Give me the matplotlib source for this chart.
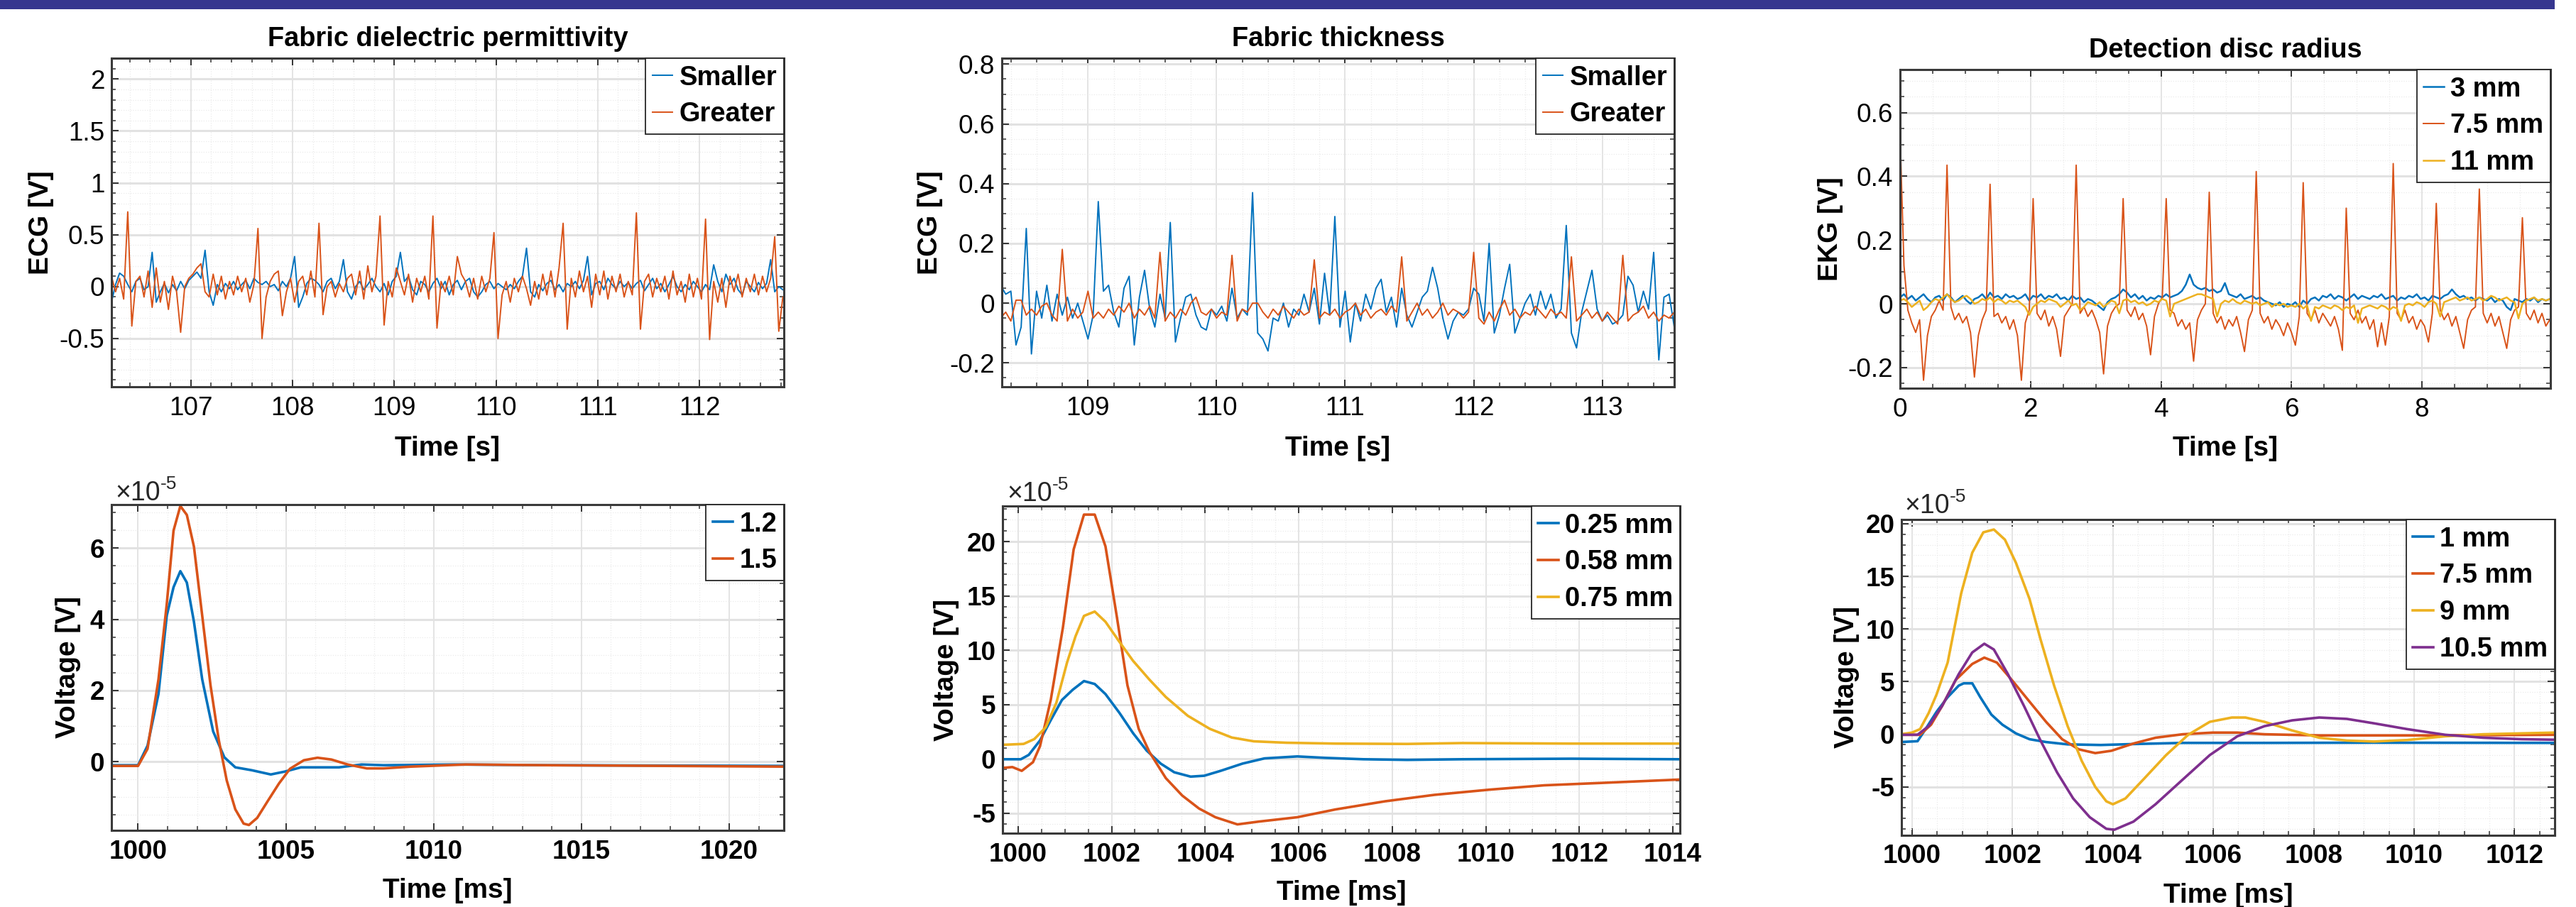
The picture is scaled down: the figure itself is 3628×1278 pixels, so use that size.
import numpy as np
import matplotlib
matplotlib.use("Agg")
import matplotlib.pyplot as plt
import matplotlib.ticker as mtick
from matplotlib.patches import Rectangle

plt.rcParams['font.family'] = ['Liberation Sans', 'DejaVu Sans']
plt.rcParams['axes.unicode_minus'] = False

W, H = 3628, 1278
BLUE, ORANGE, YELLOW, PURPLE = '#0072BD', '#D95319', '#EDB120', '#7E2F8E'

# ---------------- data ----------------
# top left: fabric dielectric permittivity, ECG [V], one sample every 40 ms
perm_t0, perm_dt = 106.22, 0.04
perm_smaller = [
    -0.15, 0.02, 0.13, 0.10, 0.02, -0.05, 0.05, 0.08, -0.03, 0.00,
    0.33, -0.15, -0.05, 0.03, -0.06, 0.02, -0.04, 0.05, -0.02, 0.06,
    0.10, 0.14, 0.08, 0.35, -0.05, -0.18, 0.02, -0.05, 0.03, -0.02,
    0.05, -0.03, 0.02, 0.06, -0.02, 0.08, 0.04, 0.02, 0.05, 0.00,
    0.02, -0.04, 0.05, 0.00, 0.08, 0.29, -0.20, -0.10, 0.03, 0.08,
    0.06, 0.02, -0.05, 0.05, 0.08, -0.02, 0.05, 0.26, -0.05, -0.12,
    0.00, 0.05, -0.03, 0.02, 0.08, 0.00, -0.05, 0.03, -0.08, 0.05,
    0.10, 0.33, 0.05, 0.10, -0.03, -0.08, 0.05, 0.02, -0.05, 0.03,
    0.08, -0.02, 0.05, -0.08, 0.02, 0.06, -0.03, 0.05, 0.08, -0.05,
    -0.10, -0.05, 0.02, 0.05, -0.02, 0.03, 0.00, -0.03, 0.02, -0.02,
    0.05, 0.10, 0.37, -0.05, -0.10, 0.02, -0.04, 0.03, 0.06, -0.03,
    0.02, -0.05, 0.03, 0.00, 0.05, -0.02, 0.06, 0.29, -0.08, 0.03,
    0.05, -0.03, 0.08, 0.02, -0.02, 0.05, 0.00, 0.04, -0.02, 0.03,
    0.06, -0.04, 0.02, 0.08, -0.02, 0.03, -0.05, 0.02, 0.10, 0.00,
    -0.05, 0.02, -0.03, 0.05, 0.00, -0.05, 0.02, -0.03, 0.21, 0.05,
    -0.05, 0.12, 0.02, 0.08, -0.03, -0.08, 0.05, 0.00, -0.05, 0.04,
    -0.02, 0.03, 0.26, -0.05, 0.00, -0.03, -0.05]
perm_greater = [
    0.10, -0.05, 0.08, -0.12, 0.72, -0.38, 0.05, 0.10, -0.10, 0.15,
    -0.20, 0.18, -0.15, 0.05, -0.22, 0.10, -0.05, -0.44, 0.00, 0.08,
    0.12, 0.18, 0.22, -0.05, -0.10, 0.12, -0.08, 0.10, -0.12, 0.05,
    -0.08, 0.10, -0.05, 0.08, -0.15, 0.02, 0.56, -0.50, -0.10, 0.05,
    0.12, 0.15, -0.28, -0.05, 0.08, -0.15, 0.05, 0.10, -0.08, 0.15,
    -0.10, 0.61, -0.27, 0.00, 0.05, -0.10, 0.03, -0.05, 0.08, 0.12,
    -0.08, 0.15, -0.12, 0.20, -0.05, 0.10, 0.68, -0.37, 0.05, -0.10,
    0.18, 0.05, -0.08, 0.12, -0.15, 0.08, -0.05, 0.10, -0.12, 0.68,
    -0.40, 0.05, -0.05, 0.10, -0.08, 0.29, 0.12, 0.05, -0.10, 0.08,
    -0.12, 0.10, -0.05, 0.08, 0.52, -0.50, -0.08, 0.05, -0.15, 0.08,
    -0.05, 0.10, -0.02, -0.18, 0.05, -0.12, 0.12, -0.08, 0.15, -0.10,
    0.18, 0.61, -0.41, 0.08, -0.10, 0.15, -0.05, 0.10, -0.20, 0.12,
    -0.08, 0.15, -0.12, 0.10, -0.05, 0.12, -0.10, 0.05, -0.08, 0.71,
    -0.41, 0.05, 0.12, -0.10, 0.08, -0.05, 0.10, -0.12, 0.15, -0.08,
    0.05, -0.15, 0.12, -0.10, 0.08, -0.12, 0.65, -0.51, 0.05, -0.15,
    0.08, -0.20, 0.10, -0.05, 0.12, -0.10, 0.08, -0.05, 0.12, -0.08,
    0.10, -0.05, 0.08, 0.48, -0.43, -0.10, -0.18]

# top middle: fabric thickness, ECG [V], one sample every 40 ms
thick_t0, thick_dt = 108.32, 0.04
thick_smaller = [
    0.06, 0.03, 0.04, -0.14, -0.08, 0.25, -0.17, 0.04, -0.05, 0.06,
    -0.06, 0.03, -0.04, 0.02, -0.05, 0.00, -0.06, -0.12, -0.04, 0.34,
    0.04, 0.06, -0.03, -0.08, 0.05, 0.09, -0.14, 0.02, 0.11, -0.02,
    -0.08, 0.03, -0.05, 0.27, -0.13, -0.05, 0.02, 0.03, -0.04, -0.08,
    -0.09, -0.02, -0.04, -0.01, -0.06, 0.05, -0.05, -0.02, -0.04, 0.37,
    -0.10, -0.12, -0.16, -0.05, -0.06, 0.00, -0.08, -0.02, -0.04, 0.03,
    -0.03, 0.05, -0.07, 0.10, -0.04, 0.29, -0.08, 0.04, -0.13, 0.00,
    -0.06, 0.03, -0.02, 0.05, 0.08, -0.03, 0.02, -0.08, 0.05, -0.04,
    -0.08, -0.03, 0.02, 0.04, 0.12, 0.05, -0.05, -0.12, -0.06, -0.03,
    -0.04, -0.02, 0.05, 0.03, -0.06, 0.20, -0.10, -0.04, 0.05, 0.13,
    -0.10, -0.05, 0.00, 0.03, -0.04, 0.04, -0.02, 0.03, -0.05, -0.02,
    0.26, -0.10, -0.15, -0.03, 0.04, 0.11, -0.02, -0.06, -0.04, -0.07,
    -0.06, -0.04, 0.09, 0.06, -0.03, 0.04, -0.02, 0.17, -0.19, 0.02,
    0.03, -0.08]
thick_greater = [
    -0.05, -0.03, -0.06, 0.01, 0.01, -0.04, -0.02, -0.04, -0.01, 0.00,
    -0.04, -0.06, 0.18, -0.06, -0.02, -0.05, -0.03, 0.04, -0.05, -0.03,
    -0.05, -0.02, -0.04, -0.01, -0.03, 0.00, -0.05, -0.02, -0.04, -0.01,
    -0.05, 0.17, -0.06, -0.03, -0.05, -0.02, -0.04, 0.00, 0.02, -0.03,
    -0.04, -0.02, -0.05, -0.03, -0.04, 0.16, -0.06, -0.02, -0.03, 0.00,
    0.00, -0.03, -0.05, -0.02, -0.04, -0.01, -0.03, -0.05, -0.02, -0.04,
    -0.03, 0.145, -0.05, -0.03, -0.04, -0.02, -0.05, -0.03, -0.02, 0.00,
    -0.04, -0.02, -0.05, -0.03, -0.02, -0.04, -0.01, -0.03, 0.155, -0.06,
    -0.03, 0.00, -0.04, -0.02, -0.05, -0.03, 0.00, -0.04, -0.02, -0.03,
    -0.05, -0.03, 0.17, -0.05, -0.07, -0.03, -0.06, -0.02, 0.01, -0.04,
    -0.02, -0.05, -0.03, -0.04, -0.01, -0.03, -0.05, -0.02, -0.04, -0.03,
    -0.05, 0.155, -0.06, -0.04, -0.02, -0.05, -0.03, -0.06, -0.03, -0.05,
    -0.07, 0.16, -0.06, -0.04, -0.03, -0.01, -0.05, -0.03, -0.06, -0.04,
    -0.05, -0.03]

# top right: detection disc radius, EKG [V], one sample every 60 ms
disc_t0, disc_dt = 0.0, 0.06
disc_3mm = [
    0.02, 0.03, 0.015, 0.025, 0.01, 0.02, 0.03, 0.015, 0.005, 0.02,
    0.025, 0.01, 0.03, 0.02, 0.005, 0.015, 0.025, 0.01, 0.0, 0.015,
    0.02, 0.03, 0.015, 0.035, 0.02, 0.025, 0.015, 0.03, 0.02, 0.025,
    0.015, 0.02, 0.03, 0.01, 0.025, 0.02, 0.03, 0.015, 0.025, 0.02,
    0.03, 0.015, 0.02, 0.01, 0.025, 0.015, 0.02, 0.005, 0.015, 0.01,
    0.0, -0.01, -0.02, 0.005, 0.015, 0.02, 0.03, 0.045, 0.035, 0.02,
    0.03, 0.015, 0.025, 0.01, 0.02, 0.015, 0.025, 0.02, 0.03, 0.02,
    0.025, 0.03, 0.04, 0.06, 0.092, 0.06, 0.05, 0.045, 0.05, 0.04,
    0.045, 0.035, 0.04, 0.065, 0.03, 0.025, 0.02, 0.03, 0.015, 0.02,
    0.025, 0.015, 0.02, 0.01, 0.005, 0.0, -0.005, 0.005, -0.01, 0.0,
    -0.005, 0.005, -0.01, 0.01, 0.0, 0.015, 0.02, 0.01, 0.025, 0.02,
    0.03, 0.015, 0.025, 0.02, 0.01, 0.02, 0.03, 0.015, 0.025, 0.02,
    0.015, 0.025, 0.02, 0.03, 0.015, 0.02, 0.025, 0.01, 0.02, 0.015,
    0.025, 0.02, 0.03, 0.015, 0.02, 0.01, 0.025, 0.02, 0.015, 0.025,
    0.03, 0.045, 0.03, 0.02, 0.025, 0.015, 0.02, 0.01, 0.02, 0.015,
    0.01, 0.02, 0.005, 0.015, 0.01, -0.01, -0.02, 0.015, 0.01, 0.005,
    0.015, 0.01, 0.02, 0.005, 0.015, 0.01, 0.015]
disc_75mm = [
    0.53, 0.12, -0.02, -0.06, -0.09, -0.05, -0.24, -0.10, -0.04, -0.02,
    0.01, -0.02, 0.435, -0.01, -0.05, -0.03, -0.06, -0.04, -0.09, -0.23,
    -0.10, -0.05, -0.02, 0.375, -0.04, -0.03, -0.06, -0.04, -0.08, -0.05,
    -0.10, -0.24, -0.06, -0.02, 0.33, -0.03, -0.05, -0.02, -0.07, -0.04,
    -0.08, -0.165, -0.04, -0.02, 0.00, 0.435, -0.03, -0.01, -0.04, -0.02,
    -0.05, -0.09, -0.22, -0.07, -0.03, -0.01, 0.00, 0.33, -0.02, -0.04,
    -0.01, -0.05, -0.03, -0.07, -0.16, -0.04, 0.00, 0.02, 0.33, -0.02,
    -0.03, -0.07, -0.05, -0.08, -0.06, -0.18, -0.05, -0.02, 0.00, 0.35,
    -0.03, -0.06, -0.04, -0.08, -0.05, -0.07, -0.04, -0.09, -0.15, -0.05,
    -0.02, 0.415, -0.03, -0.06, -0.04, -0.08, -0.05, -0.07, -0.10, -0.06,
    -0.09, -0.13, -0.04, 0.38, -0.03, -0.05, -0.02, -0.06, -0.03, -0.05,
    -0.07, -0.04, -0.08, -0.146, 0.30, -0.03, -0.05, -0.02, -0.06, -0.04,
    -0.08, -0.05, -0.135, -0.06, -0.13, -0.04, 0.44, -0.03, -0.05, -0.02,
    -0.06, -0.04, -0.08, -0.05, -0.07, -0.12, -0.03, 0.315, -0.02, -0.05,
    -0.03, -0.07, -0.04, -0.09, -0.14, -0.05, -0.02, -0.01, 0.36, -0.03,
    -0.06, -0.03, -0.07, -0.04, -0.09, -0.14, -0.05, -0.02, -0.01, 0.27,
    -0.03, -0.05, -0.02, -0.06, -0.03, -0.07, -0.05]
disc_11mm = [
    0.01, 0.015, 0.005, -0.01, 0.0, 0.01, -0.02, -0.01, 0.005, 0.015,
    0.01, 0.02, 0.03, 0.015, 0.005, 0.01, 0.02, 0.025, 0.015, 0.0,
    0.005, 0.015, 0.01, 0.02, 0.005, 0.015, 0.01, 0.0, 0.01, 0.005,
    0.01, 0.0, -0.01, -0.035, -0.01, 0.0, 0.01, 0.005, 0.015, 0.01,
    0.005, -0.01, 0.0, 0.01, -0.005, 0.0, -0.02, -0.01, 0.005, 0.0,
    -0.005, 0.005, -0.01, 0.0, 0.01, 0.005, -0.03, 0.01, 0.015, 0.005,
    0.01, 0.0, 0.005, -0.005, 0.0, 0.01, 0.005, 0.015, 0.01, -0.04,
    0.0, 0.005, 0.01, 0.015, 0.02, 0.025, 0.03, 0.03, 0.025, 0.02,
    0.015, -0.04, 0.0, 0.01, 0.005, 0.015, 0.005, 0.0, 0.01, 0.005,
    0.0, 0.005, -0.005, 0.0, 0.005, -0.01, 0.0, -0.005, 0.0, -0.01,
    -0.005, -0.01, 0.0, -0.015, -0.005, -0.054, -0.01, -0.015, -0.005, -0.01,
    -0.015, -0.005, -0.01, -0.02, -0.01, -0.015, -0.005, -0.06, -0.015, -0.01,
    -0.005, -0.01, -0.015, -0.005, -0.01, -0.02, -0.01, -0.015, -0.054, -0.005,
    0.0, -0.005, 0.005, 0.0, -0.01, 0.005, 0.01, 0.0, -0.04, 0.005,
    0.01, 0.015, 0.02, 0.01, 0.015, 0.02, 0.01, 0.015, 0.02, 0.01,
    0.015, 0.025, 0.02, 0.01, 0.015, 0.02, 0.01, 0.005, -0.046, 0.0,
    0.01, 0.015, 0.02, 0.01, 0.015, 0.01, 0.015]

# bottom left: simulated pulse, permittivity 1.2 / 1.5 (voltage in 1e-5 V)
p12_t = [999.1, 999.5, 1000.0, 1000.32, 1000.69, 1000.97, 1001.2, 1001.43, 1001.65, 1001.89,
         1002.17, 1002.54, 1002.92, 1003.29, 1003.84, 1004.49, 1004.96, 1005.51, 1006.26,
         1006.8, 1007.56, 1008.3, 1010.7, 1013.87, 1021.85]
p12_v = [-0.1, -0.1, -0.1, 0.45, 1.9, 4.1, 4.9, 5.35, 5.03, 3.93,
         2.31, 0.85, 0.12, -0.16, -0.24, -0.36, -0.28, -0.16, -0.16,
         -0.16, -0.08, -0.1, -0.08, -0.1, -0.12]
p15_t = [999.1, 999.5, 1000.0, 1000.32, 1000.69, 1000.97, 1001.2, 1001.43, 1001.65, 1001.89,
         1002.17, 1002.45, 1002.73, 1003.0, 1003.29, 1003.57, 1003.75, 1004.03, 1004.4, 1004.77,
         1005.14, 1005.61, 1006.07, 1006.54, 1007.09, 1007.74, 1008.3, 1009.23, 1011.09,
         1013.87, 1021.85]
p15_v = [-0.12, -0.12, -0.12, 0.36, 2.31, 4.42, 6.49, 7.18, 6.93, 6.04,
         4.1, 2.15, 0.61, -0.53, -1.34, -1.74, -1.78, -1.58, -1.09, -0.61,
         -0.2, 0.04, 0.11, 0.06, -0.08, -0.19, -0.19, -0.14, -0.08,
         -0.1, -0.14]

# bottom middle: thickness 0.25 / 0.58 / 0.75 mm
t025_t = [999.67, 1000.06, 1000.23, 1000.47, 1000.70, 1000.94, 1001.17, 1001.41, 1001.64,
          1001.87, 1002.17, 1002.46, 1002.75, 1003.05, 1003.34, 1003.69, 1003.98, 1004.33,
          1004.8, 1005.27, 1005.97, 1006.56, 1007.38, 1008.32, 1009.49, 1011.83, 1014.14]
t025_v = [-0.05, -0.05, 0.35, 1.68, 3.55, 5.41, 6.35, 7.15, 6.88,
          5.95, 4.21, 2.35, 0.75, -0.45, -1.25, -1.65, -1.57, -1.12,
          -0.45, 0.03, 0.21, 0.08, -0.05, -0.11, -0.05, 0.0, -0.05]
t058_t = [999.67, 999.88, 1000.08, 1000.32, 1000.47, 1000.70, 1000.96, 1001.19, 1001.41,
          1001.64, 1001.87, 1002.11, 1002.34, 1002.58, 1002.81, 1003.16, 1003.51, 1003.87,
          1004.22, 1004.69, 1005.15, 1005.97, 1006.79, 1007.85, 1008.9, 1010.08, 1011.25,
          1012.42, 1014.14]
t058_v = [-0.85, -0.77, -1.12, -0.32, 1.15, 5.41, 12.08, 19.28, 22.48,
          22.48, 19.55, 13.15, 6.75, 2.75, 0.61, -1.79, -3.39, -4.59,
          -5.39, -6.05, -5.79, -5.39, -4.67, -3.92, -3.33, -2.85, -2.45,
          -2.24, -1.92]
t075_t = [999.67, 1000.12, 1000.35, 1000.59, 1000.82, 1001.05, 1001.23, 1001.41, 1001.64,
          1001.87, 1002.17, 1002.46, 1002.81, 1003.16, 1003.63, 1004.1, 1004.57, 1005.04,
          1005.74, 1006.79, 1008.32, 1009.49, 1011.83, 1014.14]
t075_v = [1.28, 1.36, 1.81, 2.88, 5.15, 8.88, 11.28, 13.15, 13.55,
          12.61, 10.75, 9.01, 7.28, 5.68, 3.95, 2.75, 1.95, 1.6,
          1.47, 1.39, 1.36, 1.44, 1.39, 1.39]

# bottom right: disc radius 1 / 7.5 / 9 / 10.5 mm
r1_t = [999.78, 1000.11, 1000.27, 1000.49, 1000.71, 1000.93, 1001.03, 1001.2, 1001.36, 1001.58,
        1001.8, 1002.07, 1002.34, 1002.67, 1003.1, 1003.76, 1004.41, 1005.39, 1007.02, 1009.2,
        1012.8]
r1_v = [-0.74, -0.66, 0.49, 2.14, 3.52, 4.62, 4.84, 4.84, 3.52, 1.87,
        0.91, 0.08, -0.47, -0.74, -0.96, -1.02, -0.93, -0.82, -0.82, -0.8,
        -0.82]
r75_t = [999.78, 1000.16, 1000.38, 1000.6, 1000.87, 1001.2, 1001.44, 1001.69, 1002.01, 1002.34,
         1002.67, 1002.99, 1003.32, 1003.65, 1003.97, 1004.41, 1004.85, 1005.39, 1005.99, 1006.48,
         1007.02, 1008.11, 1010.29, 1012.8]
r75_v = [-0.05, -0.05, 0.91, 2.69, 5.16, 6.68, 7.28, 6.81, 5.03, 3.1,
         1.18, -0.47, -1.43, -1.79, -1.57, -0.88, -0.33, 0.0, 0.16, 0.16,
         0.0, -0.11, -0.11, -0.05]
r9_t = [999.78, 1000.0, 1000.16, 1000.33, 1000.49, 1000.71, 1000.98, 1001.2, 1001.42, 1001.63,
        1001.85, 1002.07, 1002.34, 1002.56, 1002.83, 1003.1, 1003.38, 1003.65, 1003.87, 1004.0,
        1004.25, 1004.63, 1005.06, 1005.5, 1005.93, 1006.37, 1006.64, 1007.02, 1007.57, 1008.11,
        1008.66, 1009.2, 1009.86, 1010.62, 1011.38, 1012.8]
r9_v = [0.0, 0.16, 0.49, 2.0, 3.79, 6.81, 13.4, 17.25, 19.18, 19.45,
        18.49, 16.29, 12.86, 9.01, 4.62, 0.77, -2.53, -5.0, -6.37, -6.65,
        -6.1, -4.18, -1.98, -0.05, 1.18, 1.59, 1.59, 1.18, 0.36, -0.33,
        -0.6, -0.69, -0.55, -0.19, 0.0, 0.16]
r105_t = [999.78, 1000.11, 1000.33, 1000.6, 1000.93, 1001.2, 1001.44, 1001.63, 1001.91, 1002.23,
          1002.56, 1002.89, 1003.21, 1003.54, 1003.87, 1004.03, 1004.41, 1004.85, 1005.39, 1005.93,
          1006.48, 1007.02, 1007.57, 1008.11, 1008.66, 1009.2, 1009.86, 1010.62, 1011.38, 1012.14,
          1012.8]
r105_v = [-0.05, -0.05, 0.77, 2.69, 5.71, 7.77, 8.6, 8.05, 5.71, 2.69,
          -0.6, -3.63, -6.1, -7.88, -8.98, -9.07, -8.3, -6.65, -4.31, -1.98,
          -0.19, 0.77, 1.32, 1.59, 1.46, 1.04, 0.49, -0.05, -0.33, -0.47,
          -0.52]

# ---------------- figure ----------------
fig = plt.figure(figsize=(W / 100, H / 100), dpi=100)
fig.patch.set_facecolor('white')
# slide banner at the top
fig.add_artist(Rectangle((0, 1 - 13 / H), 3598 / W, 13 / H, transform=fig.transFigure,
                         color='#36368f', lw=0))

TICK_PT = 26.6
LABEL_PT = 28
TITLE_PT = 27.4
LEG_PT = 27.4


def make_axes(box):
    x0, y0, x1, y1 = box
    return fig.add_axes([x0 / W, 1 - y1 / H, (x1 - x0) / W, (y1 - y0) / H])


def style(ax, xlim, ylim, xticks, yticks, xminor, yminor, weight):
    ax.set_xlim(xlim)
    ax.set_ylim(ylim)
    ax.set_xticks(xticks, [f'{v:g}' for v in xticks], fontsize=TICK_PT, fontweight=weight)
    ax.set_yticks(yticks, [f'{v:g}' for v in yticks], fontsize=TICK_PT, fontweight=weight)
    ax.xaxis.set_minor_locator(mtick.MultipleLocator(xminor))
    ax.yaxis.set_minor_locator(mtick.MultipleLocator(yminor))
    ax.set_axisbelow(True)
    for s in ax.spines.values():
        s.set_color('#3a3a3a')
        s.set_linewidth(2.2)
    ax.tick_params(which='both', direction='in', top=True, right=True, color='#333333')
    ax.tick_params(which='major', length=7, width=1.4)
    ax.tick_params(which='minor', length=4.5, width=1.1)
    ax.tick_params(axis='x', which='major', pad=9)
    ax.tick_params(axis='y', which='major', pad=7)
    ax.yaxis.grid(True, which='major', color='#e2e2e2', lw=2.2)
    ax.xaxis.grid(True, which='major', color='#e2e2e2', lw=1.3)
    ax.grid(True, which='minor', color='#ebebeb', lw=0.9, ls=':')


def labels(ax, box, title, title_y, xlabel, xlabel_y, ylabel, ylabel_x):
    x0, y0, x1, y1 = box
    w, h = x1 - x0, y1 - y0
    if title:
        ax.text(0.5, (y1 - title_y) / h, title, transform=ax.transAxes, ha='center',
                va='center', fontsize=TITLE_PT, fontweight='bold')
    ax.set_xlabel(xlabel, fontsize=LABEL_PT, fontweight='bold')
    ax.xaxis.set_label_coords(0.5, (y1 - xlabel_y) / h)
    ax.xaxis.label.set_va('center')
    ax.set_ylabel(ylabel, fontsize=LABEL_PT, fontweight='bold')
    ax.yaxis.set_label_coords((ylabel_x - x0) / w, 0.5)
    ax.yaxis.label.set_va('center')


def legend(ax):
    leg = ax.legend(loc='upper right', bbox_to_anchor=(1, 1), borderaxespad=0,
                    prop={'weight': 'bold', 'size': LEG_PT}, handlelength=0.75,
                    handletextpad=0.25, borderpad=0.25, labelspacing=0.42,
                    fancybox=False, framealpha=1, edgecolor='#262626')
    leg.get_frame().set_linewidth(1.3)


def exponent(x, y):
    # MATLAB style "x10^-5" multiplier above the y axis
    fig.text(x / W, 1 - y / H, '×10', fontsize=27, va='baseline', ha='left', color='#262626')
    fig.text((x + 64) / W, 1 - (y - 16) / H, '-5', fontsize=19, va='baseline', ha='left',
             color='#262626')


def series_t(t0, dt, vals):
    return t0 + dt * np.arange(len(vals))


# ---- top left
box = (157, 82, 1104, 545)
ax = make_axes(box)
t = series_t(perm_t0, perm_dt, perm_smaller)
ax.plot(t, perm_smaller, color=BLUE, lw=1.4, label='Smaller')
ax.plot(t, perm_greater, color=ORANGE, lw=1.4, label='Greater')
style(ax, (106.22, 112.83), (-0.965, 2.2), [107, 108, 109, 110, 111, 112],
      [-0.5, 0, 0.5, 1, 1.5, 2], 0.2, 0.1, 'normal')
labels(ax, box, 'Fabric dielectric permittivity', 55, 'Time [s]', 632, 'ECG [V]', 58)
legend(ax)

# ---- top middle
box = (1411, 82, 2358, 545)
ax = make_axes(box)
t = series_t(thick_t0, thick_dt, thick_smaller)
ax.plot(t, thick_smaller, color=BLUE, lw=1.4, label='Smaller')
ax.plot(t, thick_greater, color=ORANGE, lw=1.4, label='Greater')
style(ax, (108.33, 113.56), (-0.28, 0.82), [109, 110, 111, 112, 113],
      [-0.2, 0, 0.2, 0.4, 0.6, 0.8], 0.2, 0.05, 'normal')
labels(ax, box, 'Fabric thickness', 55, 'Time [s]', 632, 'ECG [V]', 1310)
legend(ax)

# ---- top right
box = (2676, 98, 3592, 547)
ax = make_axes(box)
t = series_t(disc_t0, disc_dt, disc_3mm)
ax.plot(t, disc_3mm, color=BLUE, lw=1.8, label='3 mm')
ax.plot(t, disc_75mm, color=ORANGE, lw=1.4, label='7.5 mm')
ax.plot(t, disc_11mm, color=YELLOW, lw=1.8, label='11 mm')
style(ax, (0, 9.97), (-0.265, 0.735), [0, 2, 4, 6, 8],
      [-0.2, 0, 0.2, 0.4, 0.6], 0.5, 0.05, 'normal')
labels(ax, box, 'Detection disc radius', 71, 'Time [s]', 632, 'EKG [V]', 2578)
legend(ax)

# ---- bottom left
box = (157, 711, 1104, 1170)
ax = make_axes(box)
ax.plot(p12_t, p12_v, color=BLUE, lw=2.6, label='1.2')
ax.plot(p15_t, p15_v, color=ORANGE, lw=2.6, label='1.5')
style(ax, (999.1, 1021.85), (-1.93, 7.22), [1000, 1005, 1010, 1015, 1020],
      [0, 2, 4, 6], 1, 0.5, 'bold')
labels(ax, box, None, 0, 'Time [ms]', 1255, 'Voltage [V]', 96)
legend(ax)
exponent(162, 705)

# ---- bottom middle
box = (1412, 713, 2366, 1174)
ax = make_axes(box)
ax.plot(t025_t, t025_v, color=BLUE, lw=2.6, label='0.25 mm')
ax.plot(t058_t, t058_v, color=ORANGE, lw=2.6, label='0.58 mm')
ax.plot(t075_t, t075_v, color=YELLOW, lw=2.6, label='0.75 mm')
style(ax, (999.67, 1014.15), (-6.86, 23.27), list(range(1000, 1015, 2)),
      [-5, 0, 5, 10, 15, 20], 0.5, 1, 'bold')
labels(ax, box, None, 0, 'Time [ms]', 1258, 'Voltage [V]', 1333)
legend(ax)
exponent(1418, 706)

# ---- bottom right
box = (2678, 732, 3598, 1177)
ax = make_axes(box)
ax.plot(r1_t, r1_v, color=BLUE, lw=2.6, label='1 mm')
ax.plot(r75_t, r75_v, color=ORANGE, lw=2.6, label='7.5 mm')
ax.plot(r9_t, r9_v, color=YELLOW, lw=2.6, label='9 mm')
ax.plot(r105_t, r105_v, color=PURPLE, lw=2.6, label='10.5 mm')
style(ax, (999.79, 1012.8), (-9.6, 20.4), list(range(1000, 1013, 2)),
      [-5, 0, 5, 10, 15, 20], 0.5, 1, 'bold')
labels(ax, box, None, 0, 'Time [ms]', 1262, 'Voltage [V]', 2601)
legend(ax)
exponent(2682, 723)

fig.savefig('out.png', dpi=100, facecolor='white')
